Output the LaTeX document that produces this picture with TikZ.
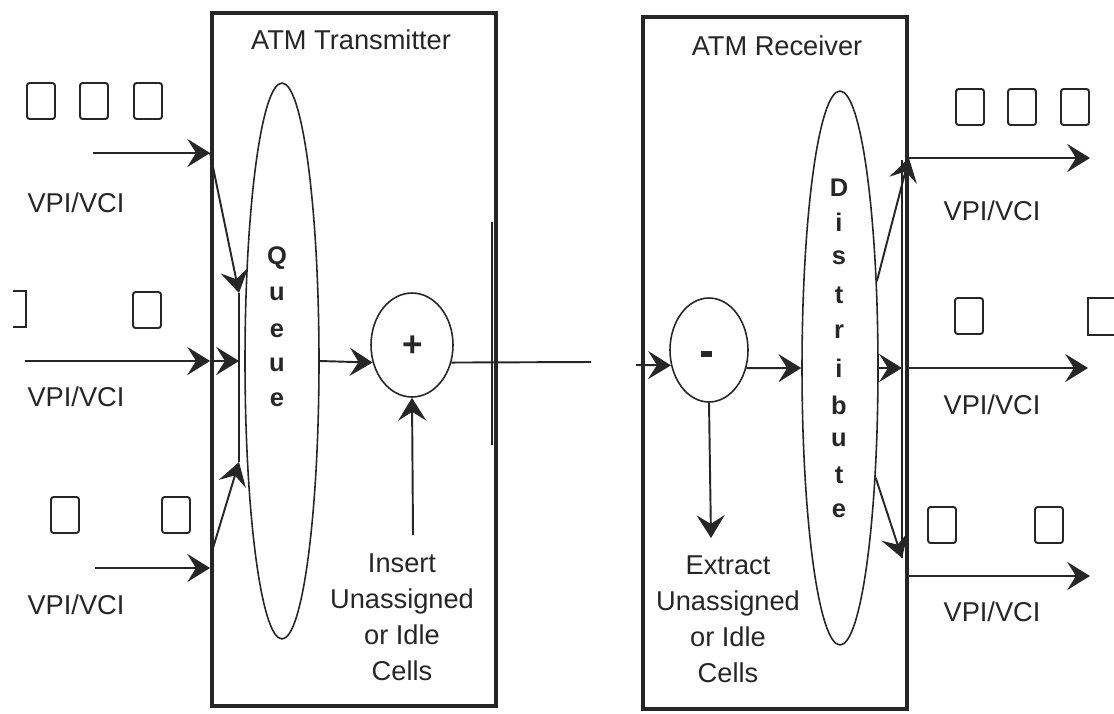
\documentclass[tikz,border=0pt]{standalone}
\usepackage{fontspec}
\setmainfont{Liberation Sans}
\usetikzlibrary{shapes.geometric,arrows.meta,calc}
\definecolor{ink}{HTML}{262626}
\begin{document}
\begin{tikzpicture}[x=0.02cm,y=-0.02cm,
  ink/.style={draw=ink},
  frame/.style={draw=ink,line width=2.2pt,rectangle,inner sep=0pt},
  oval/.style={draw=ink,line width=0.9pt,ellipse,inner sep=0pt},
  cell/.style={draw=ink,line width=1.1pt,rectangle,rounded corners=1.5pt,minimum width=0.56cm,minimum height=0.72cm,inner sep=0pt},
  arr/.style={draw=ink,line width=1.1pt,-{Stealth[length=13pt,width=16pt,inset=5pt]}},
  plain/.style={draw=ink,line width=1.1pt},
  thinline/.style={draw=ink,line width=0.7pt},
  lbl/.style={text=ink,font=\fontsize{15.5}{20.4}\selectfont,inner sep=0pt,align=center},
  letter/.style={text=ink,font=\fontsize{14.5}{16}\selectfont\bfseries,inner sep=0pt},
  sign/.style={text=ink,font=\fontsize{20}{22}\selectfont\bfseries,inner sep=0pt}]
\useasboundingbox[fill=white] (0,0) rectangle (1114,713);

% boxes
\node[frame,minimum width=5.68cm,minimum height=13.86cm] (tx) at (354,359.5) {};
\node[frame,minimum width=5.28cm,minimum height=13.84cm] (rx) at (775,363) {};
\node[lbl] (txt) at (351,40) {ATM Transmitter};
\node[lbl] (rxt) at (777,46) {ATM Receiver};

% ellipses
\node[oval,minimum width=1.48cm,minimum height=11.12cm] (queue) at (282,361) {};
\node[oval,minimum width=1.64cm,minimum height=2.08cm] (plus) at (412,345) {};
\node[oval,minimum width=1.56cm,minimum height=2.08cm] (minus) at (709,350) {};
\node[oval,minimum width=1.52cm,minimum height=11.08cm] (dist) at (840,368) {};
\node[sign] (plussign) at (413,346) {+};
\node[fill=ink,minimum width=0.22cm,minimum height=0.11cm,inner sep=0pt] (minussign) at (706,354) {};

% letters
\foreach \c/\y [count=\i] in {Q/258,u/294,e/331,u/365,e/400}
  \node[letter] (q\i) at (277,\y) {\c};
\foreach \c/\y [count=\i] in {D/188,i/222,s/258,t/295,r/332,i/368,b/405,u/440,t/475,e/511}
  \node[letter] (d\i) at (839,\y) {\c};

% labels
\node[lbl] (ins) at (402,617) {Insert\\Unassigned\\or Idle\\Cells};
\node[lbl] (ext) at (728,619) {Extract\\Unassigned\\or Idle\\Cells};
\node[lbl] (v1) at (76,203) {VPI/VCI};
\node[lbl] (v2) at (76,397) {VPI/VCI};
\node[lbl] (v3) at (76,605) {VPI/VCI};
\node[lbl] (v4) at (992,211) {VPI/VCI};
\node[lbl] (v5) at (992,405) {VPI/VCI};
\node[lbl] (v6) at (992,612) {VPI/VCI};

% cells left
\node[cell] (c1) at (41,101) {};
\node[cell] (c2) at (94,101) {};
\node[cell] (c3) at (148,101) {};
\node[cell] (c5) at (147,310) {};
\node[cell] (c6) at (65,515) {};
\node[cell] (c7) at (176,515) {};
\draw[ink,line width=1.1pt] (13,291) -- (26,291) -- (26,327) -- (13,327);
% cells right
\node[cell] (c8) at (970,107) {};
\node[cell] (c9) at (1022,107) {};
\node[cell] (c10) at (1075,107) {};
\node[cell] (c11) at (969,316) {};
\node[cell] (c12) at (942,525) {};
\node[cell] (c13) at (1049,525) {};
\draw[ink,line width=1.1pt] (1114,298) -- (1088,298) -- (1088,335) -- (1114,335);

% coordinates
\coordinate (in1) at (93,153);
\coordinate (in2) at (25,361);
\coordinate (in3) at (95,568);
\coordinate (d3) at (213,548);
\coordinate (lt1) at (239,293);
\coordinate (lt2) at (239,462);
\coordinate (tt1) at (492,222);
\coordinate (tt2) at (492,445);
\coordinate (link) at (591,362);
\coordinate (link2) at (636,365);
\coordinate (insb) at (413,535);
\coordinate (extb) at (711,538);
\coordinate (rt1) at (902,160);
\coordinate (rt2) at (902,558);
\coordinate (out1) at (1090,158);
\coordinate (out2) at (1088,368);
\coordinate (out3) at (1090,576);

% thin inner lines
\draw[thinline] (lt1) -- (lt2);
\draw[thinline] (tt1) -- (tt2);
\draw[thinline] (rt1) -- (rt2);

% transmitter inputs
\draw[arr] (in1) -- (tx.west |- in1);
\draw[arr] (tx.west |- in1) -- (lt1);
\draw[arr] (in2) -- (tx.west |- in2);
\draw[arr] (tx.west |- in2) -- (lt1 |- in2);
\draw[arr] (in3) -- (tx.west |- in3);
\draw[arr] (d3) -- (lt2);

% middle chain
\draw[arr] (queue.east) -- (plus.204);
\draw[arr] (insb) -- (plus.south);
\draw[plain] (plus.336) -- (link);
\draw[arr] (link2) -- (minus.202);
\draw[arr] (minus.south) -- (extb);
\draw[arr] (minus.334) -- (dist.west);

% receiver outputs
\draw[arr] (dist.67) -- (rx.east |- out1);
\draw[arr] (rx.east |- out1) -- (out1);
\draw[arr] (dist.east) -- (rt1 |- dist.east);
\draw[arr] (rx.east |- out2) -- (out2);
\draw[arr] (dist.288) -- (rt2);
\draw[arr] (rx.east |- out3) -- (out3);
\end{tikzpicture}
\end{document}
